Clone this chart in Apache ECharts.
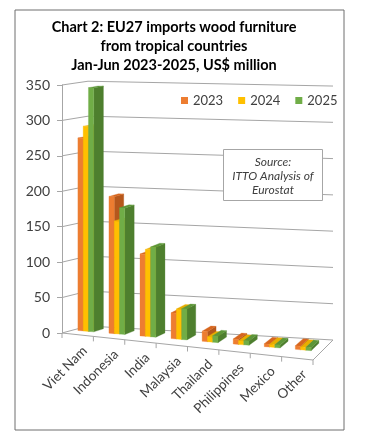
<!DOCTYPE html>
<html>
<head>
<meta charset="utf-8">
<script src="https://cdn.jsdelivr.net/npm/echarts@6/dist/echarts.min.js"></script>
<style>
  html, body { margin: 0; padding: 0; background: #fff; }
  #chart { width: 378px; height: 440px; }
</style>
</head>
<body>
<div id="chart"></div>
<script>
// data (US$ million)
const categories = ['Viet Nam', 'Indonesia', 'India', 'Malaysia', 'Thailand', 'Philippines', 'Mexico', 'Other'];
const years = ['2023', '2024', '2025'];
const imports2023 = [273, 193, 115, 36, 14, 7, 4, 5];
const imports2024 = [290, 159, 122, 42, 7, 5, 4, 4];
const imports2025 = [345, 178, 126, 43, 9, 6, 4, 4];
const yTicks = [0, 50, 100, 150, 200, 250, 300, 350];

const titleText = 'Chart 2: EU27 imports wood furniture\nfrom tropical countries\nJan-Jun 2023-2025, US$ million';
const sourceText = 'Source:\nITTO Analysis of\nEurostat';

const frontColors = ['#ED7D31', '#FFC000', '#70AD47'];
const sideColors = ['#B5571C', '#C99700', '#4E7F2E'];
const topColors = ['#D7661E', '#E8AE00', '#5C9638'];
const lineColor = '#A6A6A6';
const FONT = 'Lato, "Open Sans", sans-serif';

// 3d box: floor slopes down to the right, depth goes up-right
const nCat = categories.length;
function proj(api, u, v, d) {
  const p0 = api.coord([u, 0]);
  const p1 = api.coord([u, v]);
  const t = u / nCat;
  const k = (1 + 0.037 * t) * (1 - d) + (0.987 + 0.037 * t) * d;
  return [
    p0[0] + d * (26 - 6 * t),
    p0[1] + 27 * t - d * (7 + 13 * t) - (p0[1] - p1[1]) * k
  ];
}

function barSeries(name, values, s) {
  return {
    name: name,
    type: 'custom',
    clip: false,
    itemStyle: { color: frontColors[s] },
    data: values.map((v, i) => [i, v]),
    encode: { x: 0, y: 1 },
    renderItem: function (params, api) {
      const i = api.value(0), v = api.value(1);
      const u0 = i + 0.16 + s * 0.17, u1 = u0 + 0.17;
      const d0 = 0.42, d1 = 0.80;
      const poly = (pts, fill) => ({ type: 'polygon', shape: { points: pts }, style: { fill: fill, stroke: fill, lineWidth: 0.3 } });
      return {
        type: 'group',
        children: [
          poly([proj(api, u1, 0, d0), proj(api, u1, 0, d1), proj(api, u1, v, d1), proj(api, u1, v, d0)], sideColors[s]),
          poly([proj(api, u0, v, d0), proj(api, u1, v, d0), proj(api, u1, v, d1), proj(api, u0, v, d1)], topColors[s]),
          poly([proj(api, u0, 0, d0), proj(api, u1, 0, d0), proj(api, u1, v, d0), proj(api, u0, v, d0)], frontColors[s])
        ]
      };
    }
  };
}

const chart = echarts.init(document.getElementById('chart'), null, { renderer: 'canvas' });

const option = {
  animation: false,
  backgroundColor: '#fff',
  textStyle: { fontFamily: FONT },
  grid: { left: 62, top: 85, width: 251, height: 248 },
  legend: {
    data: years,
    left: 176,
    top: 89,
    icon: 'rect',
    itemWidth: 7,
    itemHeight: 7,
    itemGap: 15,
    textStyle: { fontSize: 13, color: '#404040', fontFamily: FONT }
  },
  xAxis: { type: 'value', min: 0, max: nCat, show: false },
  yAxis: {
    type: 'value',
    min: 0,
    max: 350,
    interval: 50,
    axisLine: { show: true, lineStyle: { color: lineColor } },
    axisTick: { show: true, length: 5, lineStyle: { color: lineColor } },
    splitLine: { show: false },
    axisLabel: { fontSize: 14, color: '#404040', margin: 12, fontFamily: FONT }
  },
  graphic: [
    { type: 'rect', shape: { x: 15, y: 10, width: 329, height: 420 }, style: { fill: 'none', stroke: '#6e6e6e', lineWidth: 1 }, z: 0 },
    { type: 'text', x: 174, y: 18, style: { text: titleText, font: 'bold 14.5px ' + FONT, fill: '#000', align: 'center', verticalAlign: 'top', lineHeight: 19 } },
    { type: 'rect', shape: { x: 223.5, y: 149.5, width: 99, height: 51 }, style: { fill: '#fff', stroke: '#A6A6A6', lineWidth: 1 }, z: 10 },
    { type: 'text', x: 273, y: 155, z: 11, style: { text: sourceText, font: 'italic 12px ' + FONT, fill: '#404040', align: 'center', verticalAlign: 'top', lineHeight: 14 } }
  ],
  series: [
    {
      name: 'frame',
      type: 'custom',
      clip: false,
      silent: true,
      z: 1,
      data: yTicks.map(v => [0, v]),
      encode: { x: 0, y: 1 },
      renderItem: function (params, api) {
        const v = api.value(1);
        const ln = (a, b) => ({ type: 'line', shape: { x1: a[0], y1: a[1], x2: b[0], y2: b[1] }, style: { stroke: lineColor, lineWidth: 1 } });
        const children = [
          ln(proj(api, 0, v, 0), proj(api, 0, v, 1)),
          ln(proj(api, 0, v, 1), proj(api, nCat, v, 1))
        ];
        if (v === 0) {
          children.push(ln(proj(api, 0, 0, 0), proj(api, nCat, 0, 0)));
          children.push(ln(proj(api, nCat, 0, 0), proj(api, nCat, 0, 1)));
        }
        return { type: 'group', children: children };
      }
    },
    {
      name: 'ticks',
      type: 'custom',
      clip: false,
      silent: true,
      z: 1,
      data: categories.concat(['']).map((c, i) => [i, 0]),
      encode: { x: 0, y: 1 },
      renderItem: function (params, api) {
        const p = proj(api, api.value(0), 0, 0);
        return { type: 'line', shape: { x1: p[0], y1: p[1], x2: p[0], y2: p[1] + 5 }, style: { stroke: lineColor, lineWidth: 1 } };
      }
    },
    {
      name: 'labels',
      type: 'custom',
      clip: false,
      silent: true,
      z: 3,
      data: categories.map((c, i) => [i + 0.5, 0]),
      encode: { x: 0, y: 1 },
      renderItem: function (params, api) {
        const p = proj(api, api.value(0), 0, 0);
        return {
          type: 'text',
          x: p[0] + 7,
          y: p[1] + 14,
          rotation: Math.PI / 4,
          style: { text: categories[params.dataIndex], font: '13.5px ' + FONT, fill: '#404040', align: 'right', verticalAlign: 'middle' }
        };
      }
    },
    barSeries('2023', imports2023, 0),
    barSeries('2024', imports2024, 1),
    barSeries('2025', imports2025, 2)
  ]
};

chart.setOption(option);
</script>
</body>
</html>
